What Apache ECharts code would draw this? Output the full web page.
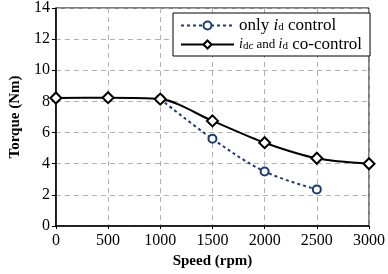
<!DOCTYPE html>
<html><head><meta charset="utf-8">
<script src="https://cdn.jsdelivr.net/npm/echarts@6/dist/echarts.min.js"></script>
<style>html,body{margin:0;padding:0;background:#fff}#c{width:388px;height:274px}</style>
</head><body><div id="c"></div>
<script>
const speeds = [0, 500, 1000, 1500, 2000, 2500, 3000];
const onlyId = [null, null, 8.15, 5.6, 3.5, 2.35, null];
const coControl = [8.22, 8.24, 8.15, 6.75, 5.35, 4.35, 4.0];
const nameA = 'only id control';
const nameB = 'idc and id co-control';
const F = '"Liberation Serif", "Times New Roman", serif';

const chart = echarts.init(document.getElementById('c'), null, {renderer: 'canvas'});
const pairs = arr => speeds.map((s, i) => [s, arr[i]]);
chart.setOption({
  animation: false,
  grid: {left: 49, right: 11, top: 7, bottom: 42, show: true, borderColor: '#000', borderWidth: 1},
  xAxis: {
    type: 'value', min: 0, max: 3000, interval: 500,
    name: 'Speed (rpm)', nameLocation: 'middle', nameGap: 28,
    nameTextStyle: {fontFamily: F, fontWeight: 'bold', fontSize: 15, color: '#000'},
    axisLine: {lineStyle: {color: '#000', width: 1.5}},
    axisTick: {show: true, length: 3, lineStyle: {color: '#000'}},
    axisLabel: {fontFamily: F, fontSize: 16, color: '#000', margin: 7, formatter: v => String(v)},
    splitLine: {show: true, lineStyle: {color: '#b0b0b0', type: [5, 4]}}
  },
  yAxis: {
    type: 'value', min: 0, max: 14, interval: 2,
    name: 'Torque (Nm)', nameLocation: 'middle', nameGap: 32,
    nameTextStyle: {fontFamily: F, fontWeight: 'bold', fontSize: 15, color: '#000'},
    axisLine: {show: true, lineStyle: {color: '#000', width: 1.5}},
    axisTick: {show: true, length: 4, lineStyle: {color: '#000'}},
    axisLabel: {fontFamily: F, fontSize: 16, color: '#000', margin: 6, formatter: v => String(v)},
    splitLine: {show: true, lineStyle: {color: '#b0b0b0', type: [5, 4]}}
  },
  legend: {
    orient: 'vertical', left: 173, top: 13, itemWidth: 53, itemHeight: 10, itemGap: 2,
    backgroundColor: '#fff', borderColor: '#000', borderWidth: 1, borderRadius: 0,
    padding: [4, 8, 3, 7],
    data: [nameA, nameB],
    formatter: n => n === nameA
      ? '{t|only }{i|i}{s|d}{t| control}'
      : '{i2|i}{s|dc}{a| and }{i2|i}{s|d}{t| co-control}',
    textStyle: {
      fontFamily: F, color: '#000',
      rich: {
        t: {fontFamily: F, fontSize: 17, color: '#000', lineHeight: 16},
        a: {fontFamily: F, fontSize: 13, color: '#000', lineHeight: 16},
        i: {fontFamily: F, fontSize: 17, fontStyle: 'italic', color: '#000', lineHeight: 16},
        i2: {fontFamily: F, fontSize: 14, fontStyle: 'italic', color: '#000', lineHeight: 16},
        s: {fontFamily: F, fontSize: 11, color: '#000', padding: [4, 0, 0, 0], lineHeight: 16}
      }
    }
  },
  series: [
    {
      name: nameA, type: 'line', data: pairs(onlyId), smooth: 0.35,
      symbol: 'emptyCircle', symbolSize: 8, z: 2,
      lineStyle: {color: '#1b3a7a', width: 2, type: [3, 3]},
      itemStyle: {color: '#1b3a7a', borderWidth: 2.5, borderColor: '#1b3a7a'}
    },
    {
      name: nameB, type: 'line', data: pairs(coControl), smooth: 0.3,
      symbol: 'emptyDiamond', symbolSize: 11, z: 3,
      lineStyle: {color: '#000', width: 2},
      itemStyle: {color: '#000', borderWidth: 2, borderColor: '#000'}
    }
  ]
});
</script></body></html>
